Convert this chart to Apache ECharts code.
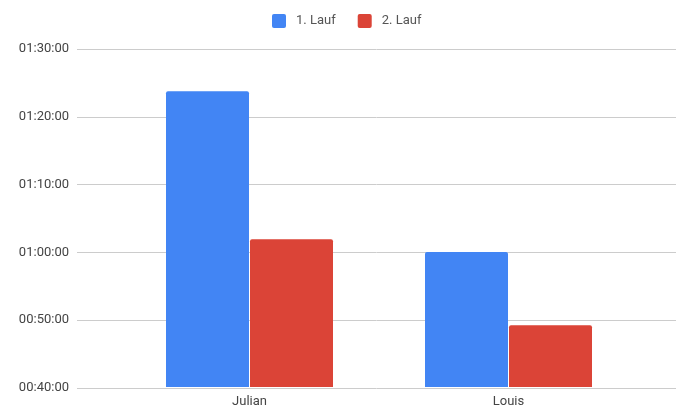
<!DOCTYPE html>
<html>
<head>
<meta charset="utf-8">
<script src="https://cdn.jsdelivr.net/npm/echarts@6/dist/echarts.min.js"></script>
<style>html,body{margin:0;padding:0;background:#fff}#c{width:676px;height:408px}</style>
</head>
<body>
<div id="c"></div>
<script>
var categories = ['Julian', 'Louis'];
var seriesNames = ['1. Lauf', '2. Lauf'];
// durations in seconds
var lauf1 = [5024, 3598];
var lauf2 = [3711, 2949];
var yTicks = [2400, 3000, 3600, 4200, 4800, 5400];

function fmt(s) {
  var h = Math.floor(s / 3600), m = Math.floor((s % 3600) / 60), sec = Math.round(s % 60);
  function p(n) { return (n < 10 ? '0' : '') + n; }
  return p(h) + ':' + p(m) + ':' + p(sec);
}

var chart = echarts.init(document.getElementById('c'));
var font = 'Roboto, Arial, sans-serif';
chart.setOption({
  animation: false,
  legend: {
    top: 9, left: 267,
    itemWidth: 14, itemHeight: 14, itemGap: 22,
    icon: 'path://M2,0 L12,0 Q14,0 14,2 L14,12 Q14,14 12,14 L2,14 Q0,14 0,12 L0,2 Q0,0 2,0 Z',
    textStyle: { color: '#555', fontSize: 13, fontFamily: font, padding: [0, 0, 0, 5] },
    data: seriesNames
  },
  grid: [
    { left: 77, right: 0, top: 49, bottom: 20 },
    { left: 120, right: 38, top: 49, bottom: 20 }
  ],
  xAxis: [
    { gridIndex: 0, type: 'category', data: categories, show: false },
    { gridIndex: 1, type: 'category', data: categories,
      axisLine: { show: false }, axisTick: { show: false },
      axisLabel: { color: '#444', fontSize: 13, fontFamily: font, margin: 8 } }
  ],
  yAxis: [
    { gridIndex: 0, type: 'value', min: yTicks[0], max: yTicks[yTicks.length - 1], interval: 600,
      axisLine: { show: false }, axisTick: { show: false },
      splitLine: { lineStyle: { color: '#cccccc', width: 1 } },
      axisLabel: { color: '#444', fontSize: 13, fontFamily: font, margin: 8, formatter: fmt } },
    { gridIndex: 1, type: 'value', min: yTicks[0], max: yTicks[yTicks.length - 1], interval: 600,
      show: false, splitLine: { show: false } }
  ],
  series: [
    { name: seriesNames[0], type: 'bar', xAxisIndex: 1, yAxisIndex: 1, data: lauf1,
      barWidth: 83, barGap: '1.2%', itemStyle: { color: '#4285F4', borderRadius: [2, 2, 0, 0] } },
    { name: seriesNames[1], type: 'bar', xAxisIndex: 1, yAxisIndex: 1, data: lauf2,
      barWidth: 83, barGap: '1.2%', itemStyle: { color: '#DB4437', borderRadius: [2, 2, 0, 0] } }
  ]
});
</script>
</body>
</html>
